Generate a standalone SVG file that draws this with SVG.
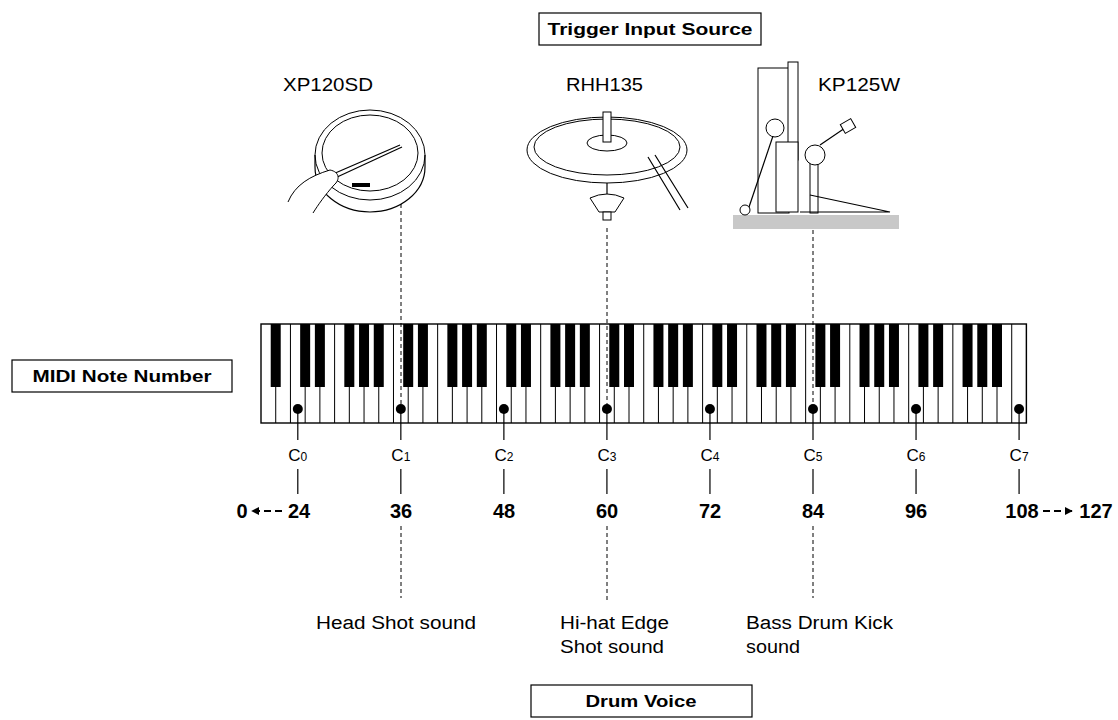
<svg xmlns="http://www.w3.org/2000/svg" width="1118" height="720" viewBox="0 0 1118 720">
<style>
text{font-family:"Liberation Sans",Arial,sans-serif;fill:#000}
.lb{font-size:18px}
.bx{font-size:17px;font-weight:bold}
.num{font-size:20px;font-weight:bold}
.cn{font-size:17px}
.sub{font-size:12px}
.box{fill:#fff;stroke:#000;stroke-width:1.2}
.dash{stroke:#000;stroke-width:1;stroke-dasharray:4,3;fill:none}
.ln{stroke:#000;stroke-width:1.2;fill:none}
.ill{stroke:#000;stroke-width:1;fill:#fff}
.wk{fill:#fff;stroke:#000;stroke-width:1.4}
</style>
<defs>
<marker id="ah" viewBox="0 0 10 10" refX="9" refY="5" markerWidth="8" markerHeight="8" markerUnits="userSpaceOnUse" orient="auto-start-reverse"><path d="M0,0 L10,5 L0,10 z" fill="#000"/></marker>
<g id="oct" fill="#000">
<rect x="9.72" y="0" width="10" height="63"/>
<rect x="24.44" y="0" width="10" height="63"/>
<rect x="53.88" y="0" width="10" height="63"/>
<rect x="68.6" y="0" width="10" height="63"/>
<rect x="83.32" y="0" width="10" height="63"/>
</g>
<g id="lbl">
<circle cx="0" cy="409" r="5" fill="#000"/>
<line x1="0" y1="409" x2="0" y2="440" stroke="#000" stroke-width="1.2"/>
<line x1="0" y1="469" x2="0" y2="494" stroke="#000" stroke-width="1.2"/>
</g>
</defs>
<rect width="1118" height="720" fill="#fff"/>

<g id="trigger-input-source"><rect class="box" x="539" y="13" width="222" height="32"/><text class="bx" x="650" y="35" text-anchor="middle" textLength="205" lengthAdjust="spacingAndGlyphs">Trigger Input Source</text></g>
<g id="midi-note-number"><rect class="box" x="12" y="360" width="220" height="32"/><text class="bx" x="122" y="382" text-anchor="middle" textLength="179" lengthAdjust="spacingAndGlyphs">MIDI Note Number</text></g>
<g id="drum-voice"><rect class="box" x="531" y="685" width="221" height="32"/><text class="bx" x="641" y="707" text-anchor="middle" textLength="111" lengthAdjust="spacingAndGlyphs">Drum Voice</text></g>

<g id="xp120sd">
<text class="lb" x="283" y="91" textLength="90" lengthAdjust="spacingAndGlyphs">XP120SD</text>
<ellipse class="ill" cx="370" cy="155" rx="55" ry="45" stroke-width="1.2"/>
<path class="ln" d="M315,155 L315,167 A55,45 0 0 0 425,167 L425,155"/>
<ellipse class="ill" cx="370" cy="153" rx="48" ry="38"/>
<path d="M352,183 h18 v4 h-18z" fill="#000"/>
<path class="ln" d="M335,178 L402,147"/><path class="ln" d="M333,174 L400,145"/>
<path class="ill" d="M288,202 C295,185 310,176 330,170 C340,172 340,180 334,185 C325,195 318,205 313,213"/>
</g>
<g id="rhh135">
<text class="lb" x="566" y="91" textLength="77" lengthAdjust="spacingAndGlyphs">RHH135</text>
<ellipse class="ill" cx="607" cy="150" rx="80" ry="33"/>
<ellipse class="ill" cx="607" cy="147" rx="73" ry="28"/>
<ellipse class="ill" cx="607" cy="143" rx="20" ry="8"/>
<rect class="ill" x="603" y="112" width="8" height="30"/>
<path class="ln" d="M607,183 V200"/>
<path class="ill" d="M590,198 Q607,190 624,198 L615,212 H599 Z"/>
<rect class="ill" x="603" y="212" width="8" height="8"/>
<path class="ln" d="M648,157 L680,210 M655,155 L688,208"/>
</g>
<g id="kp125w">
<text class="lb" x="818" y="91" textLength="82" lengthAdjust="spacingAndGlyphs">KP125W</text>
<rect x="733" y="215" width="166" height="14" fill="#c8c8c8"/>
<rect class="ill" x="758" y="68" width="31" height="145"/>
<rect class="ill" x="788" y="62" width="10" height="98"/>
<rect class="ill" x="776" y="142" width="22" height="70"/>
<path class="ln" d="M775,130 L748,210"/>
<circle class="ill" cx="775" cy="128" r="9"/>
<circle class="ill" cx="745" cy="210" r="5"/>
<rect class="ill" x="810" y="155" width="8" height="58"/>
<circle class="ill" cx="815" cy="155" r="10"/>
<path class="ln" d="M820,145 L845,128"/>
<rect class="ill" x="842" y="121" width="12" height="10" transform="rotate(-30 848 126)"/>
<path class="ln" d="M810,195 L890,212 L800,212"/>
</g>

<g id="keyboard">
<rect class="wk" x="261" y="324" width="765.4" height="99"/>
<line x1="275.22" y1="373.5" x2="1026" y2="373.5" stroke="#000" stroke-width="99" stroke-dasharray="1,13.72"/>
<rect x="270.72" y="324" width="10" height="63" fill="#000"/>
<use href="#oct" transform="translate(290.44,324)"/>
<use href="#oct" transform="translate(393.48,324)"/>
<use href="#oct" transform="translate(496.52,324)"/>
<use href="#oct" transform="translate(599.56,324)"/>
<use href="#oct" transform="translate(702.6,324)"/>
<use href="#oct" transform="translate(805.64,324)"/>
<use href="#oct" transform="translate(908.68,324)"/>
</g>

<g id="connectors">
<line class="dash" x1="401" y1="204" x2="401" y2="409"/>
<line class="dash" x1="607" y1="228" x2="607" y2="409"/>
<line class="dash" x1="813" y1="230" x2="813" y2="409"/>
<line class="dash" x1="401" y1="526" x2="401" y2="598"/>
<line class="dash" x1="607" y1="526" x2="607" y2="600"/>
<line class="dash" x1="813" y1="526" x2="813" y2="598"/>
<line x1="282" y1="511" x2="252" y2="511" stroke="#000" stroke-width="1.8" stroke-dasharray="7,4" marker-end="url(#ah)"/>
<line x1="1043" y1="511" x2="1072" y2="511" stroke="#000" stroke-width="1.8" stroke-dasharray="7,4" marker-end="url(#ah)"/>
</g>

<g id="note-labels">
<use href="#lbl" x="297.8"/><use href="#lbl" x="400.84"/><use href="#lbl" x="503.88"/><use href="#lbl" x="606.92"/>
<use href="#lbl" x="709.96"/><use href="#lbl" x="813"/><use href="#lbl" x="916.04"/><use href="#lbl" x="1019.08"/>
<text class="cn" x="297.8" y="461" text-anchor="middle">C<tspan class="sub">0</tspan></text>
<text class="cn" x="400.84" y="461" text-anchor="middle">C<tspan class="sub">1</tspan></text>
<text class="cn" x="503.88" y="461" text-anchor="middle">C<tspan class="sub">2</tspan></text>
<text class="cn" x="606.92" y="461" text-anchor="middle">C<tspan class="sub">3</tspan></text>
<text class="cn" x="709.96" y="461" text-anchor="middle">C<tspan class="sub">4</tspan></text>
<text class="cn" x="813" y="461" text-anchor="middle">C<tspan class="sub">5</tspan></text>
<text class="cn" x="916.04" y="461" text-anchor="middle">C<tspan class="sub">6</tspan></text>
<text class="cn" x="1019.08" y="461" text-anchor="middle">C<tspan class="sub">7</tspan></text>
<text class="num" x="299" y="518" text-anchor="middle">24</text>
<text class="num" x="401" y="518" text-anchor="middle">36</text>
<text class="num" x="504" y="518" text-anchor="middle">48</text>
<text class="num" x="607" y="518" text-anchor="middle">60</text>
<text class="num" x="710" y="518" text-anchor="middle">72</text>
<text class="num" x="813" y="518" text-anchor="middle">84</text>
<text class="num" x="916" y="518" text-anchor="middle">96</text>
<text class="num" x="1022" y="518" text-anchor="middle">108</text>
<text class="num" x="242" y="518" text-anchor="middle">0</text>
<text class="num" x="1096" y="518" text-anchor="middle">127</text>
</g>

<g id="voices">
<text class="lb" x="316" y="629" textLength="160" lengthAdjust="spacingAndGlyphs">Head Shot sound</text>
<text class="lb" x="560" y="629" textLength="109" lengthAdjust="spacingAndGlyphs">Hi-hat Edge</text>
<text class="lb" x="560" y="653" textLength="104" lengthAdjust="spacingAndGlyphs">Shot sound</text>
<text class="lb" x="746" y="629" textLength="147" lengthAdjust="spacingAndGlyphs">Bass Drum Kick</text>
<text class="lb" x="746" y="653" textLength="54" lengthAdjust="spacingAndGlyphs">sound</text>
</g>
</svg>
